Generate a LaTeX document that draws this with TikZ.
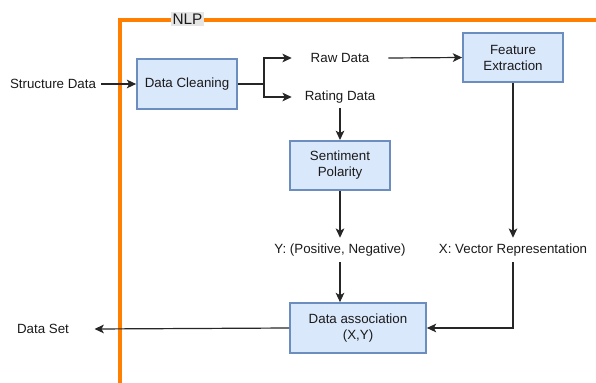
\documentclass[tikz,border=0pt]{standalone}
\usepackage{fontspec}
\setmainfont{Liberation Sans}
\usetikzlibrary{arrows.meta}
\definecolor{boxfill}{HTML}{DAE8FC}
\definecolor{boxdraw}{HTML}{6C8EBF}
\definecolor{nlporange}{HTML}{FF8000}
\definecolor{txt}{HTML}{1A1A1A}
\tikzset{
  procbox/.style={draw=boxdraw, fill=boxfill, line width=1.3pt, align=center,
    text=txt, font=\fontsize{10}{12}\selectfont, inner sep=0pt},
  lbl/.style={text=txt, font=\fontsize{10}{12}\selectfont, inner sep=0pt, align=center},
  conn/.style={draw=black!85, line width=0.9pt, -{Stealth[length=7pt,width=6.5pt,inset=1.8pt]}},
  plain/.style={draw=black!85, line width=0.9pt}
}
\begin{document}
\begin{tikzpicture}[x=0.75pt,y=-0.75pt]
\useasboundingbox (0,0) rectangle (596,382);
% frame
\draw[nlporange, line width=2.4pt] (120,384) -- (120,20) -- (598,20);
\node[fill=black!10, inner sep=1pt, text=txt, font=\fontsize{11.5}{13}\selectfont] (nlp) at (187.5,19) {NLP};
% nodes
\node[lbl] (sd) at (53,84) {Structure Data};
\node[procbox, minimum width=75pt, minimum height=38pt] (clean) at (187,84) {Data Cleaning};
\node[lbl, minimum width=72pt, minimum height=16pt] (raw) at (340,58) {Raw Data};
\node[lbl, minimum width=72pt, minimum height=16pt] (rating) at (340,97) {Rating Data};
\node[procbox, minimum width=75pt, minimum height=37pt] (feat) at (513,57.5) {Feature\\Extraction};
\node[procbox, minimum width=75pt, minimum height=37pt] (sent) at (340,165.5) {Sentiment\\Polarity};
\node[lbl, minimum height=18pt] (ylab) at (340,250) {Y: (Positive, Negative)};
\node[lbl, minimum height=18pt] (xlab) at (513,250) {X: Vector Representation};
\node[procbox, minimum width=102pt, minimum height=37.5pt] (assoc) at (358,328) {Data association\\(X,Y)};
\node[lbl] (ds) at (43,329) {Data Set};
\coordinate (br) at (264,84);
% connectors
\draw[conn] (sd.east) ++(5,0) -- (clean.west);
\draw[plain] (clean.east) -- (br);
\draw[conn] (br) |- (raw.west);
\draw[conn] (br) |- (rating.west);
\draw[conn] (raw.east) -- (feat.west);
\draw[conn] (rating.south) -- (sent.north);
\draw[conn] (sent.south) -- (ylab.north);
\draw[conn] (ylab.south) -- (ylab.south |- assoc.north);
\draw[conn] (feat.south) -- (xlab.north);
\draw[conn] (xlab.south) |- (assoc.east);
\draw[conn] (assoc.west) -- ([xshift=19pt]ds.east);
\end{tikzpicture}
\end{document}
